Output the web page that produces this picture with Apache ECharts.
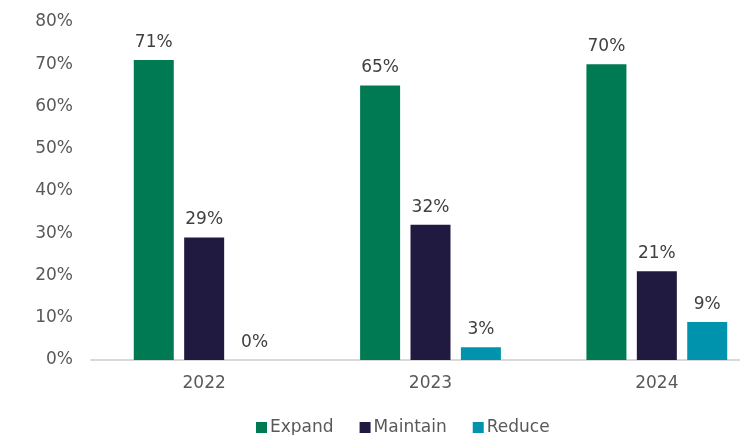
<!DOCTYPE html>
<html>
<head>
<meta charset="utf-8">
<script src="https://cdn.jsdelivr.net/npm/echarts@6/dist/echarts.min.js"></script>
<style>
  html, body { margin: 0; padding: 0; background: #fff; }
  #chart { width: 740px; height: 435px; }
</style>
</head>
<body>
<div id="chart"></div>
<script>
// Survey years and share of respondents per intention (%)
const years = ['2022', '2023', '2024'];
const expand = [71, 65, 70];
const maintain = [29, 32, 21];
const reduce = [0, 3, 9];
const yTicks = [0, 10, 20, 30, 40, 50, 60, 70, 80];

const FONT = 'DejaVu Sans';
const TEXT = '#595959';
const SIZE = 17;

function barSeries(name, data, color) {
  return {
    name: name,
    type: 'bar',
    data: data,
    barWidth: 40,
    barGap: '26%',
    itemStyle: { color: color },
    label: {
      show: true,
      position: 'top',
      distance: 9,
      formatter: '{c}%',
      fontFamily: FONT,
      fontSize: SIZE,
      color: '#404040'
    }
  };
}

const chart = echarts.init(document.getElementById('chart'), null, { renderer: 'canvas' });
chart.setOption({
  animation: false,
  backgroundColor: '#ffffff',
  textStyle: { fontFamily: FONT },
  grid: { left: 91, right: -30, top: 22, bottom: 75, outerBoundsMode: 'none', containLabel: false },
  legend: {
    top: 419,
    left: 256,
    padding: 0,
    icon: 'rect',
    itemWidth: 11,
    itemHeight: 11,
    itemGap: 26,
    textStyle: { fontFamily: FONT, fontSize: SIZE, color: TEXT, padding: [0, 0, 0, -2] },
    data: ['Expand', 'Maintain', 'Reduce']
  },
  xAxis: {
    type: 'category',
    data: years,
    axisLine: { lineStyle: { color: '#D9D9D9', width: 2 } },
    axisTick: { show: false },
    axisLabel: { fontFamily: FONT, fontSize: SIZE, color: TEXT, margin: 15 }
  },
  yAxis: {
    type: 'value',
    min: yTicks[0],
    max: yTicks[yTicks.length - 1],
    interval: 10,
    axisLine: { show: false },
    axisTick: { show: false },
    splitLine: { show: false },
    axisLabel: { fontFamily: FONT, fontSize: SIZE, color: TEXT, margin: 18, formatter: '{value}%' }
  },
  series: [
    barSeries('Expand', expand, '#007A53'),
    barSeries('Maintain', maintain, '#201A40'),
    barSeries('Reduce', reduce, '#0093AE')
  ]
});
</script>
</body>
</html>
